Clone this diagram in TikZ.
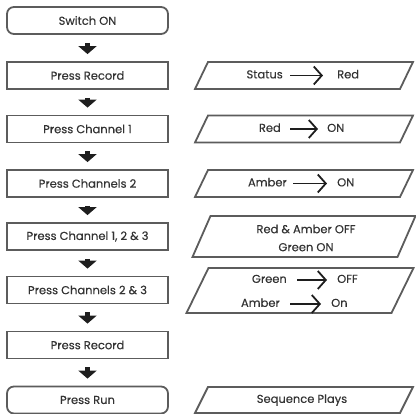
\documentclass[tikz,border=0pt]{standalone}
\usepackage{fontspec}
\setmainfont{Poppins}[FakeBold=0.3]
\usetikzlibrary{arrows.meta}
\definecolor{bordc}{HTML}{5C5C5C}
\definecolor{txtc}{HTML}{333333}
\definecolor{arrc}{HTML}{1E1E1E}
\newcommand{\paraframe}[4]{% cx, cy, h, slant
  \draw[pbord] ({#1-102.5+#4/2},{#2-#3/2}) -- ({#1+102.5+#4/2},{#2-#3/2})
    -- ({#1+102.5-#4/2},{#2+#3/2}) -- ({#1-102.5-#4/2},{#2+#3/2}) -- cycle;}
\begin{document}
\begin{tikzpicture}[x=1pt,y=-1pt,
  stepbox/.style={draw=bordc, line width=1.8pt, minimum width=161pt, minimum height=27pt,
    inner sep=0pt, text=txtc, font=\fontsize{11.5}{13}\selectfont},
  roundbox/.style={stepbox, rounded corners=7pt},
  flow/.style={draw=arrc, line width=4.4pt, -{Triangle[length=8pt,width=18pt]},
    shorten <=8pt, shorten >=7pt},
  pbord/.style={draw=bordc, line width=1.8pt, line join=miter},
  ptext/.style={inner sep=0pt, text=txtc, font=\fontsize{11.5}{13}\selectfont,
    text height=8pt, text depth=2.2pt},
  ptwo/.style={inner sep=0pt, text=txtc, font=\fontsize{11.5}{18}\selectfont, align=center},
  parrow/.style={draw=arrc, line width=1.8pt, -{Straight Barb[length=8pt,width=18pt]}}]
\useasboundingbox (0,0) rectangle (416,414);
% left column
\node[roundbox] (s0) at (87.5,20.5) {Switch ON};
\node[stepbox]  (s1) at (87.5,75.5) {Press Record};
\node[stepbox]  (s2) at (87.5,129) {Press Channel 1};
\node[stepbox]  (s3) at (87.5,183.5) {Press Channels 2};
\node[stepbox]  (s4) at (87.5,236.5) {Press Channel 1, 2 \& 3};
\node[stepbox]  (s5) at (87.5,290) {Press Channels 2 \& 3};
\node[stepbox]  (s6) at (87.5,345) {Press Record};
\node[roundbox] (s7) at (87.5,400) {Press Run};
\draw[flow] (s0) -- (s1);
\draw[flow] (s1) -- (s2);
\draw[flow] (s2) -- (s3);
\draw[flow] (s3) -- (s4);
\draw[flow] (s4) -- (s5);
\draw[flow] (s5) -- (s6);
\draw[flow] (s6) -- (s7);
% right column frames
\paraframe{304}{75.5}{27}{13}
\paraframe{304}{129}{27}{13}
\paraframe{304}{183.5}{27}{13}
\paraframe{304}{236.5}{41}{18}
\paraframe{300}{290.5}{45}{22}
\paraframe{304}{400}{26}{13}
% r1
\node[ptext, anchor=east] (r1a) at (283,75.5) {Status};
\node[ptext, anchor=west] (r1b) at (337,75.5) {Red};
\draw[parrow, shorten <=7pt, shorten >=14pt] (r1a) -- (r1b);
% r2
\node[ptext, anchor=east] (r2a) at (281,129) {Red};
\node[ptext, anchor=west] (r2b) at (327,129) {ON};
\draw[parrow, shorten <=9pt, shorten >=9pt] (r2a) -- (r2b);
% r3
\node[ptext, anchor=east] (r3a) at (287,183.5) {Amber};
\node[ptext, anchor=west] (r3b) at (337,183.5) {ON};
\draw[parrow, shorten <=6pt, shorten >=10pt] (r3a) -- (r3b);
% r4
\node[ptwo] (r4) at (306,238) {Red \& Amber OFF\\Green ON};
% r5
\node[ptext, anchor=east] (r5a) at (287,280) {Green};
\node[ptext, anchor=west] (r5b) at (337,280) {OFF};
\draw[parrow, shorten <=10pt, shorten >=10pt] (r5a) -- (r5b);
\node[ptext, anchor=east] (r5c) at (280,304) {Amber};
\node[ptext, anchor=west] (r5d) at (331,304) {On};
\draw[parrow, shorten <=10pt, shorten >=10pt] (r5c) -- (r5d);
% r6
\node[ptext] (r6) at (302,400) {Sequence Plays};
\end{tikzpicture}
\end{document}
